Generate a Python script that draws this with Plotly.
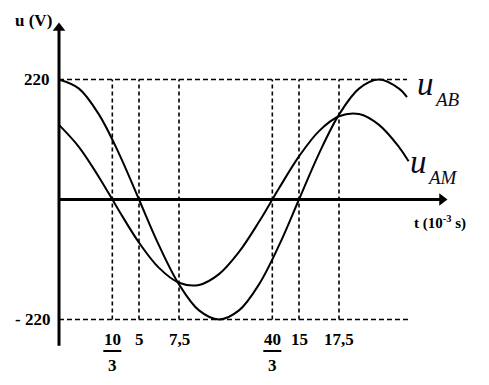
import plotly.graph_objects as go

# ---- data (t in 10^-3 s, u in V) ----
t_samples = [0, 1.25, 2.5, 3.75, 5, 6.25, 7.5, 8.75, 10, 11.25, 12.5, 13.75,
             15, 16.25, 17.5, 18.75, 20, 21.25, 21.75]
u_ab = [220, 203.3, 155.6, 84.2, 0, -84.2, -155.6, -203.3, -220, -203.3, -155.6,
        -84.2, 0, 84.2, 155.6, 203.3, 220, 203.3, 187.6]
t_am = [0, 1.25, 2.5, 3.75, 5, 6.25, 7.5, 8.75, 10, 11.25, 12.5, 13.75,
        15, 16.25, 17.5, 18.75, 20, 21.25, 21.85]
u_am = [136.8, 96.2, 40.9, -20.6, -79, -125.4, -152.6, -156.6, -136.8, -96.2,
        -40.9, 20.6, 79, 125.4, 152.6, 156.6, 136.8, 96.2, 70]

tick_vals = [10/3, 5, 7.5, 40/3, 15, 17.5]
tick_nums = ["10", "5", "7,5", "40", "15", "17,5"]
tick_dens = ["3", "", "", "3", "", ""]
u_levels = [220, -220]
u_level_labels = ["220", "- 220"]

# ---- layout helpers (pixel geometry of the original) ----
W, H = 489, 385
X0PX, PXPERT = 59, 16.0
Y0PX, PXPERU = 199.5, 120 / 220
xr = [-X0PX / PXPERT, (W - X0PX) / PXPERT]
yr = [-(H - Y0PX) / PXPERU, Y0PX / PXPERU]

def tdx(px):   # pixel offset -> t units
    return px / PXPERT

def udy(px):   # pixel offset -> u units
    return px / PXPERU

serif = "Liberation Serif, Times New Roman, serif"

fig = go.Figure()
fig.add_trace(go.Scatter(x=t_samples, y=u_ab, mode="lines",
                         line=dict(color="black", width=2, shape="spline", smoothing=1.0),
                         hoverinfo="skip", showlegend=False))
fig.add_trace(go.Scatter(x=t_am, y=u_am, mode="lines",
                         line=dict(color="black", width=2, shape="spline", smoothing=1.0),
                         hoverinfo="skip", showlegend=False))

shapes = []
# horizontal dashed lines at +-220
ends = [21.75, 21.95]
for lev, e in zip(u_levels, ends):
    shapes.append(dict(type="line", x0=0, x1=e, y0=lev, y1=lev, xref="x", yref="y",
                       line=dict(color="black", width=1.6, dash="5px,3px")))
# vertical dotted lines
for tv in tick_vals:
    shapes.append(dict(type="line", x0=tv, x1=tv, y0=-220, y1=220, xref="x", yref="y",
                       line=dict(color="black", width=1.6, dash="4px,3px")))
# axes lines
shapes.append(dict(type="line", x0=0, x1=0, y0=-268, y1=udy(Y0PX - 30), xref="x", yref="y",
                   line=dict(color="black", width=3)))
shapes.append(dict(type="line", x0=0, x1=tdx(440 - X0PX), y0=0, y1=0, xref="x", yref="y",
                   line=dict(color="black", width=3)))

# arrow heads as triangle markers
fig.add_trace(go.Scatter(x=[0], y=[udy(Y0PX - 28)], mode="markers",
                         marker=dict(symbol="triangle-up", size=11, color="black",
                                     line=dict(width=0)),
                         hoverinfo="skip", showlegend=False))
fig.add_trace(go.Scatter(x=[tdx(442 - X0PX)], y=[0], mode="markers",
                         marker=dict(symbol="triangle-right", size=11, color="black",
                                     line=dict(width=0)),
                         hoverinfo="skip", showlegend=False))

annotations = []
# axis titles
annotations.append(dict(x=tdx(33 - X0PX), y=udy(Y0PX - 20), xref="x", yref="y",
                        text="<b>u (V)</b>", showarrow=False,
                        font=dict(family=serif, size=17, color="black")))
annotations.append(dict(x=tdx(440 - X0PX), y=udy(Y0PX - 222), xref="x", yref="y",
                        text="<b>t (10<sup>-3</sup> s)</b>", showarrow=False,
                        font=dict(family=serif, size=15, color="black")))

# y level labels
for lev, lab in zip(u_levels, u_level_labels):
    annotations.append(dict(x=tdx(52 - X0PX), y=lev, xref="x", yref="y", xanchor="right",
                            text="<b>" + lab + "</b>", showarrow=False,
                            font=dict(family=serif, size=17, color="black")))

# t tick labels
for tv, num, den in zip(tick_vals, tick_nums, tick_dens):
    annotations.append(dict(x=tv, y=udy(Y0PX - 339), xref="x", yref="y",
                            text="<b>" + num + "</b>", showarrow=False,
                            font=dict(family=serif, size=17, color="black")))
    if den:
        annotations.append(dict(x=tv, y=udy(Y0PX - 365), xref="x", yref="y",
                                text="<b>" + den + "</b>", showarrow=False,
                                font=dict(family=serif, size=17, color="black")))
        shapes.append(dict(type="line", x0=tv - tdx(9), x1=tv + tdx(9),
                           y0=udy(Y0PX - 351), y1=udy(Y0PX - 351), xref="x", yref="y",
                           line=dict(color="black", width=2)))

# curve labels
for name, ux, uy, sx, sy in [("AB", 425, 84, 447, 99), ("AM", 418, 162, 442, 177)]:
    annotations.append(dict(x=tdx(ux - X0PX), y=udy(Y0PX - uy), xref="x", yref="y",
                            text="<i>u</i>", showarrow=False,
                            font=dict(family=serif, size=33, color="#0a0a1a")))
    annotations.append(dict(x=tdx(sx - X0PX), y=udy(Y0PX - sy), xref="x", yref="y",
                            text="<i>" + name + "</i>", showarrow=False,
                            font=dict(family=serif, size=19, color="#0a0a1a")))

fig.update_layout(
    width=W, height=H, margin=dict(l=0, r=0, t=0, b=0),
    paper_bgcolor="white", plot_bgcolor="white",
    xaxis=dict(range=xr, visible=False, fixedrange=True),
    yaxis=dict(range=yr, visible=False, fixedrange=True),
    shapes=shapes, annotations=annotations, showlegend=False,
)
fig.write_html("out.html")
